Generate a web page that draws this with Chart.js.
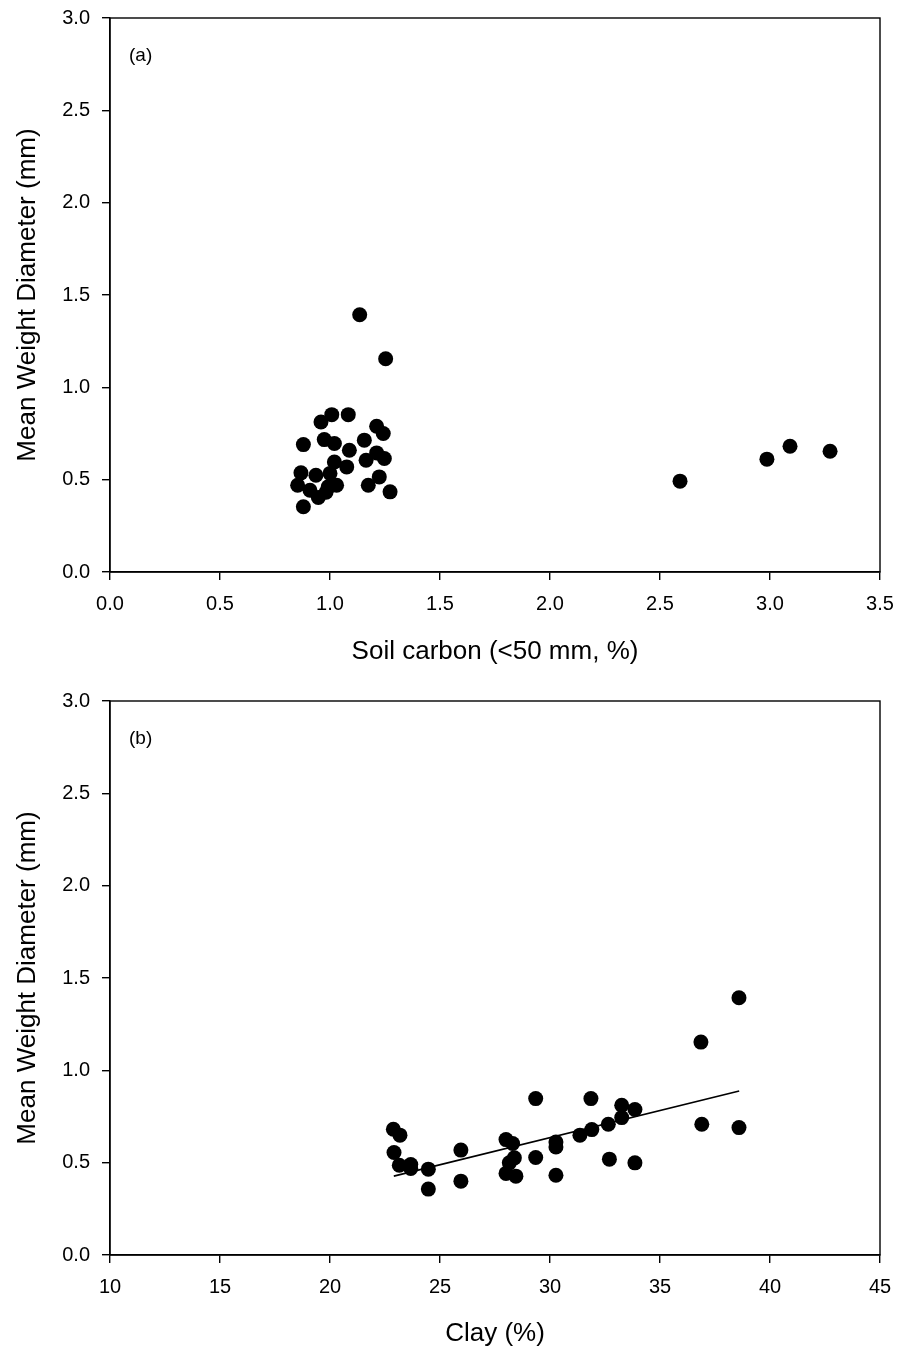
<!DOCTYPE html>
<html>
<head>
<meta charset="utf-8">
<script src="https://cdn.jsdelivr.net/npm/chart.js@4"></script>
<style>
html,body{margin:0;padding:0;background:#fff;overflow:hidden;width:911px;height:1347px;position:relative;}
.wrap{position:absolute;left:0;width:911px;}
</style>
</head>
<body>
<div class="wrap" style="top:-6px;height:683px;"><canvas id="c1" width="911" height="683"></canvas></div>
<div class="wrap" style="top:677px;height:672px;"><canvas id="c2" width="911" height="672"></canvas></div>
<script>
// ---- Data ----
const carbonX = [1.008,0.959,1.083,1.212,1.242,0.879,0.974,1.020,1.156,1.088,1.212,1.247,1.164,1.020,1.076,0.868,0.936,1.000,1.224,0.853,0.909,0.992,1.030,1.174,0.947,1.273,0.879,0.982,1.135,1.253,2.591,2.986,3.091,3.273];
const carbonMWD = [0.852,0.812,0.852,0.789,0.750,0.690,0.717,0.696,0.714,0.659,0.645,0.615,0.605,0.596,0.569,0.537,0.524,0.534,0.515,0.470,0.443,0.461,0.470,0.470,0.404,0.434,0.353,0.432,1.393,1.155,0.492,0.611,0.681,0.654];
const clayX = [22.88,23.18,22.91,23.15,23.67,23.67,24.47,24.47,25.95,25.95,29.35,31.86,28.00,28.30,28.38,28.15,28.00,28.45,29.35,30.27,30.27,30.27,31.36,31.90,33.26,33.86,33.26,32.65,32.70,33.86,38.59,36.86,36.90,38.59];
const clayMWD = [0.681,0.649,0.555,0.486,0.490,0.469,0.465,0.357,0.568,0.400,0.847,0.847,0.625,0.604,0.526,0.499,0.442,0.427,0.528,0.612,0.585,0.432,0.649,0.679,0.811,0.788,0.744,0.708,0.519,0.499,1.393,1.153,0.708,0.690];
const fitX = [22.9, 38.6];
const fitY = [0.427, 0.888];

const yTickValues = [0,0.5,1,1.5,2,2.5,3];
const yTickLabels = ['0.0','0.5','1.0','1.5','2.0','2.5','3.0'];
const carbonTickValues = [0,0.5,1,1.5,2,2.5,3,3.5];
const carbonTickLabels = ['0.0','0.5','1.0','1.5','2.0','2.5','3.0','3.5'];
const clayTickValues = [10,15,20,25,30,35,40,45];
const clayTickLabels = ['10','15','20','25','30','35','40','45'];

const FONT = "'Liberation Sans', Arial, sans-serif";

const framePlugin = {
  id: 'frame',
  afterDraw(chart, args, opts) {
    const {ctx, chartArea: a} = chart;
    ctx.save();
    ctx.strokeStyle = '#000';
    ctx.lineWidth = 1.4;
    ctx.strokeRect(a.left, a.top, a.right - a.left, a.bottom - a.top);
    ctx.fillStyle = '#000';
    ctx.font = '19px ' + FONT;
    ctx.textBaseline = 'middle';
    ctx.textAlign = 'left';
    ctx.fillText(opts.label, a.left + 19, a.top + 38);
    ctx.restore();
  }
};

function makeChart(id, xs, ys, xMin, xMax, xTicks, xLabels, xTitle, xHeight, xTitlePad, panel, withFit) {
  const pts = xs.map((x, i) => ({x: x, y: ys[i]}));
  const datasets = [{
    type: 'scatter',
    data: pts,
    backgroundColor: '#000',
    borderColor: '#000',
    borderWidth: 0,
    pointRadius: 7.5,
    pointHoverRadius: 7.5
  }];
  if (withFit) {
    datasets.push({
      type: 'line',
      data: fitX.map((x, i) => ({x: x, y: fitY[i]})),
      borderColor: '#000',
      borderWidth: 1.6,
      pointRadius: 0,
      fill: false,
      tension: 0
    });
  }
  return new Chart(document.getElementById(id), {
    type: 'scatter',
    data: {datasets},
    plugins: [framePlugin],
    options: {
      responsive: false,
      animation: false,
      events: [],
      layout: {padding: {top: 11, right: 31, left: 0, bottom: 0}},
      plugins: {legend: {display: false}, tooltip: {enabled: false}, frame: {label: panel}},
      scales: {
        x: {
          type: 'linear', min: xMin, max: xMax,
          afterBuildTicks: s => { s.ticks = xTicks.map(v => ({value: v})); },
          afterFit: s => { s.height = xHeight; },
          ticks: {
            color: '#000', padding: 12, maxRotation: 0, autoSkip: false,
            font: {family: FONT, size: 20},
            callback: (v, i) => xLabels[i]
          },
          grid: {drawOnChartArea: false, tickLength: 8, color: '#000', lineWidth: 1.4, tickColor: '#000'},
          border: {display: true, color: '#000', width: 1.4},
          title: {display: true, text: xTitle, color: '#000', font: {family: FONT, size: 26}, padding: {top: 0, bottom: xTitlePad}}
        },
        y: {
          type: 'linear', min: 0, max: 3,
          afterBuildTicks: s => { s.ticks = yTickValues.map(v => ({value: v})); },
          afterFit: s => { s.width = 110; },
          ticks: {
            color: '#000', padding: 12, autoSkip: false,
            font: {family: FONT, size: 20},
            callback: (v, i) => yTickLabels[i]
          },
          grid: {drawOnChartArea: false, tickLength: 8, color: '#000', lineWidth: 1.4, tickColor: '#000'},
          border: {display: true, color: '#000', width: 1.4},
          title: {display: true, text: 'Mean Weight Diameter (mm)', color: '#000', font: {family: FONT, size: 26}, padding: {top: 12, bottom: 0}}
        }
      }
    }
  });
}

makeChart('c1', carbonX, carbonMWD, 0, 3.5, carbonTickValues, carbonTickLabels, 'Soil carbon (<50 mm, %)', 105, 10, '(a)', false);
makeChart('c2', clayX, clayMWD, 10, 45, clayTickValues, clayTickLabels, 'Clay (%)', 94, 0, '(b)', true);
</script>
</body>
</html>
